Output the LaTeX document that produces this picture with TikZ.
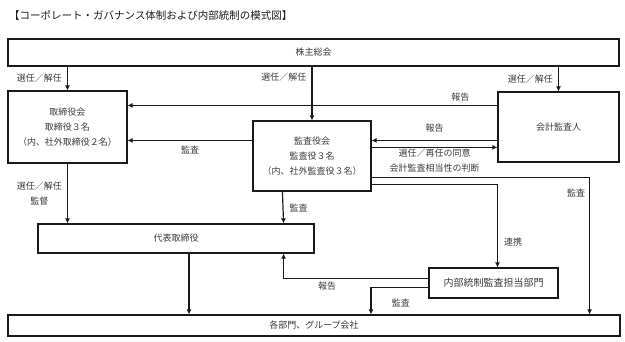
\documentclass[tikz,border=0pt]{standalone}
\usepackage{fontspec}
\newfontfamily\jp{Noto Sans CJK JP}
\usepackage{xcolor}
\definecolor{ink}{HTML}{1A1A1A}
\definecolor{ink2}{HTML}{3A3A3A}
\usetikzlibrary{arrows.meta}

\begin{document}
\begin{tikzpicture}[x=1pt,y=-1pt,
  font=\jp\fontsize{9}{15}\selectfont,
  box/.style={draw=ink,line width=1.2pt,text=ink2,align=center,inner sep=0pt},
  arr/.style={-{Latex[length=5pt,width=5pt]},ink,line width=1.2pt},
  lbl/.style={text=ink2,align=center,inner sep=1pt}
]
\useasboundingbox (0,0) rectangle (625,342);

\node[anchor=west,inner sep=0pt,text=ink,font=\jp\fontsize{10.5}{12}\selectfont] (title) at (9,15) {【コーポレート・ガバナンス体制および内部統制の模式図】};

\node[box,minimum width=611pt,minimum height=27pt] (agm) at (313.5,52.5) {株主総会};
\node[box,minimum width=119pt,minimum height=72pt] (board) at (67.5,127) {取締役会\\取締役３名\\（内、社外取締役２名）};
\node[box,minimum width=118pt,minimum height=70pt] (kansa) at (312,156) {監査役会\\監査役３名\\（内、社外監査役３名）};
\node[box,minimum width=121pt,minimum height=70pt] (auditor) at (558.5,127) {会計監査人};
\node[box,minimum width=276pt,minimum height=29pt] (ceo) at (176,238.5) {代表取締役};
\node[box,minimum width=129pt,minimum height=30pt,font=\jp\fontsize{10}{12}\selectfont] (internal) at (493.5,283) {内部統制監査担当部門};
\node[box,minimum width=612pt,minimum height=21pt] (depts) at (314,325.5) {各部門、グループ会社};

\draw[arr] (agm.south -| board.north) -- node[lbl,left=4pt] {選任／解任} (board.north);
\draw[arr] (agm.south -| kansa.north) -- node[lbl,left=4pt,pos=0.2] {選任／解任} (kansa.north);
\draw[arr] (agm.south -| auditor.north) -- node[lbl,left=4pt] {選任／解任} (auditor.north);

\draw[arr] ([yshift=-14pt]auditor.north west) -- node[lbl,above=2pt,pos=0.1] {報告} ([yshift=-15pt]board.north east);
\draw[arr] ([yshift=-49pt]auditor.north west) -- node[lbl,above=6pt] {報告} ([yshift=-20pt]kansa.north east);
\draw[arr] ([yshift=-27pt]kansa.north east) -- node[lbl,below=0pt] {選任／再任の同意\\会計監査相当性の判断} ([yshift=-56pt]auditor.north west);
\draw[arr] ([yshift=-20pt]kansa.north west) -- node[lbl,below=4pt] {監査} ([yshift=-50pt]board.north east);

\draw[arr] ([yshift=14pt]kansa.south east) -| node[lbl,left=3pt,pos=0.555] {監査} ([xshift=-31pt]depts.north east);
\draw[arr] ([yshift=7pt]kansa.south east) -| node[lbl,right=5pt,pos=0.85] {連携} ([xshift=4pt]internal.north);

\draw[arr] (board.south) -- node[lbl,left=4pt] {選任／解任\\監督} (board.south |- ceo.north);
\draw[arr] ([xshift=30pt]kansa.south west) -- node[lbl,right=5pt] {監査} ([xshift=-31pt]ceo.north east);
\draw[arr] ([xshift=13pt]ceo.south) -- ([xshift=-125pt]depts.north);

\draw[arr] ([yshift=-11pt]internal.north west) -| node[lbl,below=2pt,pos=0.35] {報告} ([xshift=-31pt]ceo.south east);
\draw[arr] ([yshift=-20pt]internal.north west) -| node[lbl,below=10pt,pos=0.24] {監査} ([xshift=57pt]depts.north);
\end{tikzpicture}
\end{document}
